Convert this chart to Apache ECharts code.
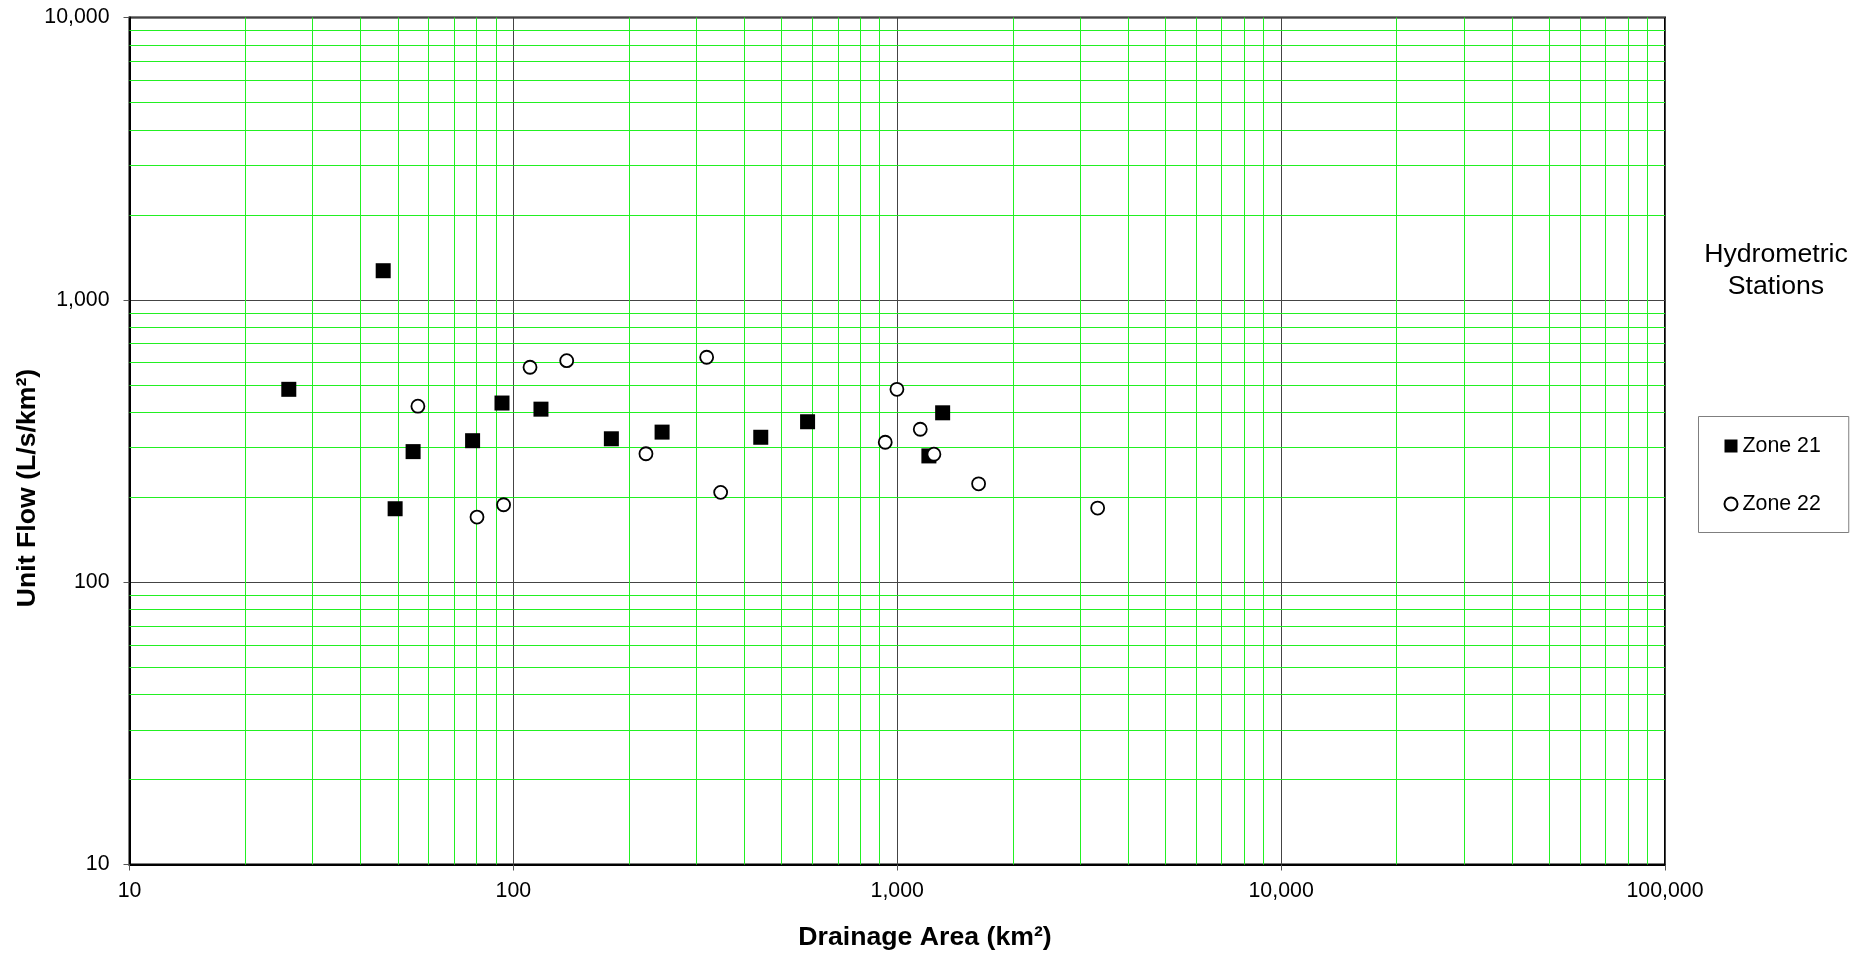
<!DOCTYPE html>
<html>
<head>
<meta charset="utf-8">
<style>
html,body{margin:0;padding:0;background:#fff;}
#chart{width:1875px;height:957px;}
</style>
<script src="https://cdn.jsdelivr.net/npm/echarts@6/dist/echarts.min.js"></script>
</head>
<body>
<div id="chart"></div>
<script>
// ---- Data ----
const zone21X = [26.0, 45.8, 54.8, 49.2, 78.3, 93.4, 118, 180, 244, 441, 584, 1313, 1209];
const zone21Y = [482, 1268, 290, 182, 317, 431, 410, 322, 340, 326, 370, 398, 280];
const zone22X = [56.4, 80.4, 94.3, 110.5, 137.7, 221.5, 318.8, 346.7, 998, 930.5, 1148, 1246, 1629, 3327];
const zone22Y = [420, 170, 188, 577, 609, 285, 626, 208, 482, 313, 348, 284, 223, 183];

const xTickValues = [10, 100, 1000, 10000, 100000];
const xTickLabels = ['10', '100', '1,000', '10,000', '100,000'];
const yTickValues = [10, 100, 1000, 10000];
const yTickLabels = ['10', '100', '1,000', '10,000'];

const xDecades = [10, 100, 1000, 10000];
const yDecades = [10, 100, 1000];
const minorMultipliers = [2, 3, 4, 5, 6, 7, 8, 9];

const xTitle = 'Drainage Area (km²)';
const yTitle = 'Unit Flow (L/s/km²)';
const legendTitle = 'Hydrometric\nStations';
const seriesNames = ['Zone 21', 'Zone 22'];

// ---- Build ----
const zip = (xs, ys) => xs.map((x, i) => [x, ys[i]]);
const xMinor = [];
xDecades.forEach(d => minorMultipliers.forEach(m => xMinor.push(m * d)));
const yMinor = [];
yDecades.forEach(d => minorMultipliers.forEach(m => yMinor.push(m * d)));

const FONT = 'Liberation Sans, Arial, sans-serif';
const GREEN = '#22f022';

function lookup(vals, labels, v) {
  for (let i = 0; i < vals.length; i++) {
    if (Math.abs(Math.log10(v) - Math.log10(vals[i])) < 1e-6) return labels[i];
  }
  return '';
}

const chart = echarts.init(document.getElementById('chart'), null, {renderer: 'canvas'});
const option = {
  animation: false,
  backgroundColor: '#fff',
  grid: {
    left: 129.5, top: 17.5, right: 210, bottom: 92.5,
    show: true, borderColor: '#000', borderWidth: 2, backgroundColor: 'transparent',
    containLabel: false
  },
  xAxis: {
    type: 'log', logBase: 10, min: 10, max: 100000, interval: 1,
    axisLine: {show: true, onZero: false, lineStyle: {color: '#000', width: 2}},
    axisTick: {show: true, length: 6, inside: false, lineStyle: {color: '#555', width: 1}},
    axisLabel: {
      margin: 16, color: '#000', fontFamily: FONT, fontSize: 21.33,
      formatter: v => lookup(xTickValues, xTickLabels, v)
    },
    splitLine: {show: true, lineStyle: {color: '#444', width: 1}},
    minorTick: {show: false}, minorSplitLine: {show: false}
  },
  yAxis: {
    type: 'log', logBase: 10, min: 10, max: 10000, interval: 1,
    axisLine: {show: true, onZero: false, lineStyle: {color: '#000', width: 2}},
    axisTick: {show: true, length: 6, inside: false, lineStyle: {color: '#555', width: 1}},
    axisLabel: {
      margin: 20, color: '#000', fontFamily: FONT, fontSize: 21.33,
      formatter: v => lookup(yTickValues, yTickLabels, v)
    },
    splitLine: {show: true, lineStyle: {color: '#444', width: 1}},
    minorTick: {show: false}, minorSplitLine: {show: false}
  },
  legend: {
    data: seriesNames.map(n => ({name: n})),
    orient: 'vertical',
    left: 1698.5, top: 416.5,
    padding: [19, 28, 18, 25],
    itemGap: 37,
    itemWidth: 13, itemHeight: 13,
    borderColor: '#7f7f7f', borderWidth: 1,
    backgroundColor: '#fff',
    selectedMode: false,
    textStyle: {fontFamily: FONT, fontSize: 21.33, color: '#000', lineHeight: 21}
  },
  graphic: [
    {type: 'text', x: 925, y: 937.5, silent: true,
     style: {text: xTitle, font: 'bold 26.67px ' + FONT, fill: '#000', textAlign: 'center', textVerticalAlign: 'middle'}},
    {type: 'text', x: 28, y: 488, rotation: Math.PI / 2, silent: true,
     style: {text: yTitle, font: 'bold 26.67px ' + FONT, fill: '#000', textAlign: 'center', textVerticalAlign: 'middle'}},
    {type: 'text', x: 1776, y: 271, silent: true,
     style: {text: legendTitle, font: '26.67px ' + FONT, fill: '#000', textAlign: 'center', textVerticalAlign: 'middle', lineHeight: 32}}
  ],
  series: [
    {
      name: 'minor-grid', type: 'scatter', data: [], z: 1, silent: true,
      markLine: {
        silent: true, symbol: ['none', 'none'], animation: false,
        label: {show: false},
        emphasis: {disabled: true},
        lineStyle: {color: GREEN, width: 1, type: 'solid'},
        data: xMinor.map(v => ({xAxis: v})).concat(yMinor.map(v => ({yAxis: v})))
      }
    },
    {
      name: seriesNames[0], type: 'scatter', z: 5,
      symbol: 'rect', symbolSize: 15,
      itemStyle: {color: '#000', borderColor: '#000', borderWidth: 0, opacity: 1},
      data: zip(zone21X, zone21Y)
    },
    {
      name: seriesNames[1], type: 'scatter', z: 6,
      symbol: 'circle', symbolSize: 13,
      itemStyle: {color: '#fff', borderColor: '#000', borderWidth: 1.8, opacity: 1},
      data: zip(zone22X, zone22Y)
    }
  ]
};
chart.setOption(option);
</script>
</body>
</html>
